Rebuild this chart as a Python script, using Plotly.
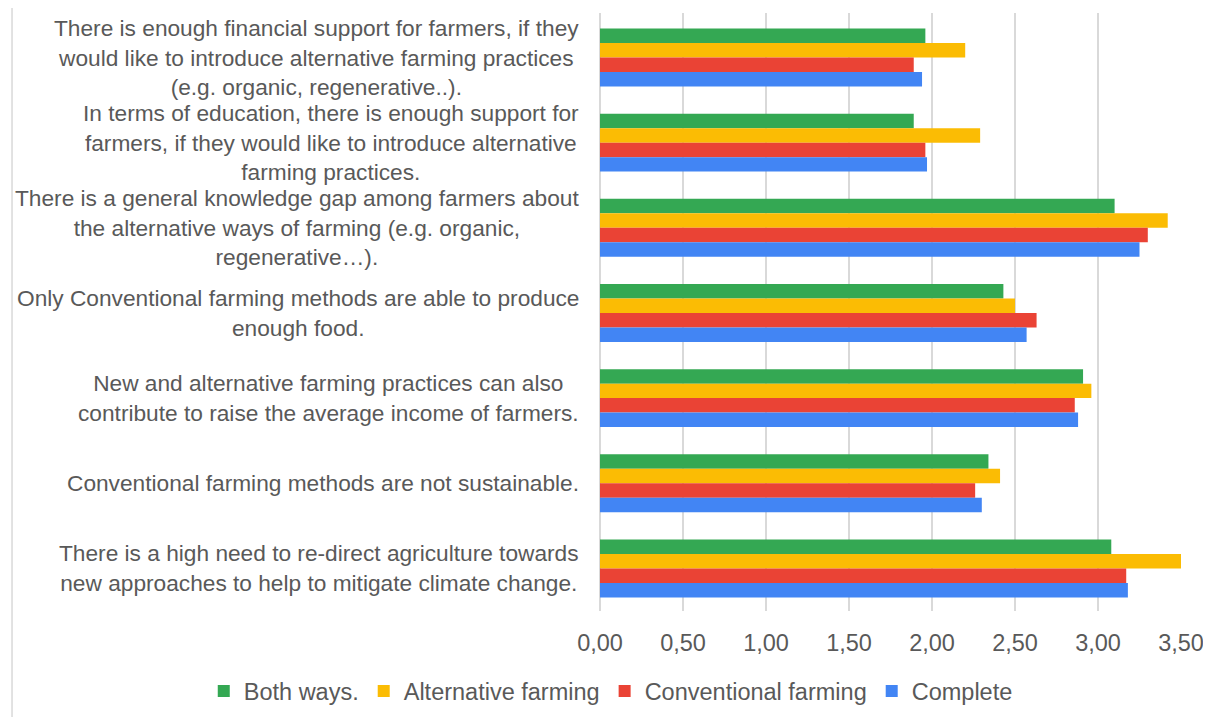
import plotly.graph_objects as go

categories = [
    "There is enough financial support for farmers, if they<br>would like to introduce alternative farming practices<br>(e.g. organic, regenerative..).",
    "In terms of education, there is enough support for<br>farmers, if they would like to introduce alternative<br>farming practices.",
    "There is a general knowledge gap among farmers about<br>the alternative ways of farming (e.g. organic,<br>regenerative…).",
    "Only Conventional farming methods are able to produce<br>enough food.",
    "New and alternative farming practices can also<br>contribute to raise the average income of farmers.",
    "Conventional farming methods are not sustainable.",
    "There is a high need to re-direct agriculture towards<br>new approaches to help to mitigate climate change.",
]

series_names = ["Both ways.", "Alternative farming", "Conventional farming", "Complete"]

both_ways = [1.96, 1.89, 3.10, 2.43, 2.91, 2.34, 3.08]
alternative_farming = [2.20, 2.29, 3.42, 2.50, 2.96, 2.41, 3.50]
conventional_farming = [1.89, 1.96, 3.30, 2.63, 2.86, 2.26, 3.17]
complete = [1.94, 1.97, 3.25, 2.57, 2.88, 2.30, 3.18]

x_ticks = [0, 0.5, 1.0, 1.5, 2.0, 2.5, 3.0, 3.5]

colors = ["#34A853", "#FBBC04", "#EA4335", "#4285F4"]
values = [both_ways, alternative_farming, conventional_farming, complete]

TEXT = "#595959"
FONT = "Liberation Sans, Arial, sans-serif"

fig = go.Figure()
for name, vals, col in zip(series_names, values, colors):
    fig.add_trace(go.Bar(
        y=categories, x=vals, name=name, orientation="h",
        marker=dict(color=col, line=dict(width=0)),
    ))

for cat in categories:
    fig.add_annotation(
        x=0, xref="paper", y=cat, yref="y",
        text=cat, showarrow=False, xanchor="right", yanchor="middle",
        align="center", xshift=-19,
        font=dict(family=FONT, size=22.7, color=TEXT),
    )

# left frame line of the chart area
fig.add_shape(type="line", xref="paper", yref="paper",
              x0=-1.0120, x1=-1.0120, y0=-0.2, y1=1.02,
              line=dict(color="#d9d9d9", width=1.5))

fig.update_layout(
    width=1211, height=717,
    margin=dict(l=592, r=38, t=5, b=114),
    paper_bgcolor="white", plot_bgcolor="white",
    barmode="group", bargap=0.32, bargroupgap=0,
    separators=", ",
    font=dict(family=FONT, size=23.5, color=TEXT),
    showlegend=True,
    legend=dict(orientation="h", xref="paper", yref="paper",
                x=-0.682, xanchor="left", y=-0.134, yanchor="middle",
                font=dict(family=FONT, size=23.5, color=TEXT), traceorder="normal",
                bgcolor="rgba(0,0,0,0)"),
    xaxis=dict(range=[0, 3.5], tickvals=x_ticks, tickformat=".2f",
               showgrid=True, gridcolor="#d9d9d9", gridwidth=1.5,
               zeroline=True, zerolinecolor="#d9d9d9", zerolinewidth=1.5,
               showline=False, ticks="outside", ticklen=11, tickcolor="rgba(0,0,0,0)",
               tickfont=dict(family=FONT, size=23.5, color=TEXT)),
    yaxis=dict(autorange="reversed", showticklabels=False, showgrid=False,
               zeroline=False, showline=False),
)

fig.write_html("out.html")
